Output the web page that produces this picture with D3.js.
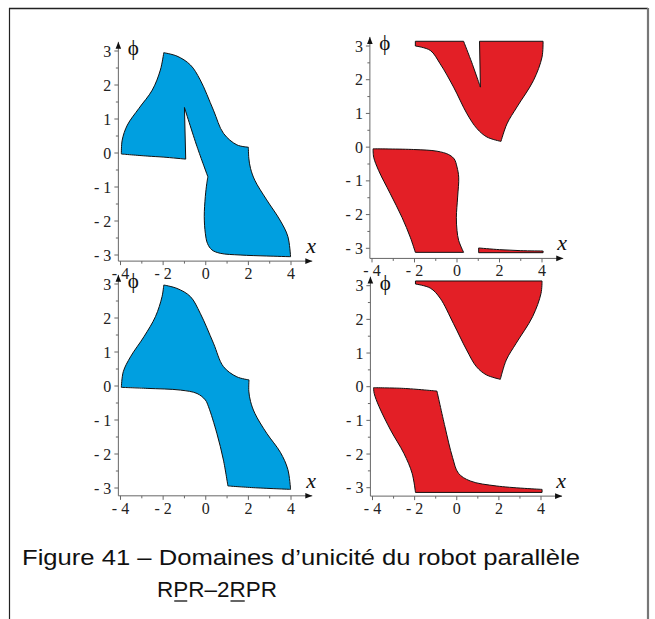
<!DOCTYPE html>
<html>
<head>
<meta charset="utf-8">
<script src="https://cdn.jsdelivr.net/npm/d3@7"></script>
<style>
  body { margin: 0; background: #fff; }
  svg { display: block; }
</style>
</head>
<body>
<div id="chart"></div>
<script>
var width = 655,
  height = 619;

// tick values
var xTicks = [-4, -2, 0, 2, 4];
var xMinor = [-3, -1, 1, 3];
var yTicks = [-3, -2, -1, 0, 1, 2, 3];
var yMinor = [-2.5, -1.5, -0.5, 0.5, 1.5, 2.5];

// domains, each one a list of edges of [x, phi] points
var domainsTopLeft = [
  [
    [[-3.96, -0.03], [-3.92, 0.38], [-3.68, 0.82], [-3.14, 1.31], [-2.51, 1.85], [-2.13, 2.44], [-1.97, 2.95]],
    [[-1.97, 2.95], [-1.35, 2.85], [-0.72, 2.59], [-0.26, 2.15], [0.36, 1.26], [0.83, 0.58], [1.46, 0.24], [2.0, 0.17]],
    [[2.0, 0.17], [2.02, -0.15], [2.1, -0.45], [2.3, -0.8], [2.86, -1.38], [3.48, -1.97], [3.85, -2.45], [3.98, -3.05]],
    [[3.98, -3.05], [2.86, -3.03], [1.61, -3.0], [0.68, -2.95], [0.29, -2.85], [0.08, -2.66], [-0.02, -2.36], [-0.07, -1.87], [-0.02, -1.28], [0.05, -0.89], [0.1, -0.7]],
    [[0.1, -0.7], [-0.41, 0.19], [-1.0, 1.34]],
    [[-1.0, 1.34], [-0.94, -0.18]],
    [[-0.94, -0.18], [-2.0, -0.12], [-2.75, -0.09], [-3.96, -0.03]]
  ]
];

var domainsBottomLeft = [
  [
    [[-3.96, -0.04], [-3.87, 0.42], [-3.53, 0.86], [-2.9, 1.45], [-2.36, 2.04], [-2.05, 2.63], [-1.97, 2.97]],
    [[-1.97, 2.97], [-1.35, 2.87], [-0.72, 2.63], [-0.26, 2.14], [0.36, 1.26], [0.83, 0.57], [1.46, 0.27], [2.03, 0.18]],
    [[2.03, 0.18], [2.02, -0.15], [2.1, -0.45], [2.3, -0.8], [2.86, -1.39], [3.5, -1.95], [3.85, -2.45], [3.98, -3.04]],
    [[3.98, -3.04], [2.23, -2.99], [1.04, -2.94]],
    [[1.04, -2.94], [0.83, -2.18], [0.52, -1.39], [0.13, -0.61], [-0.02, -0.41], [-0.41, -0.22], [-1.19, -0.12], [-2.75, -0.07], [-3.96, -0.04]]
  ]
];

var domainsTopRight = [
  [
    [[-1.96, 3.14], [0.31, 3.14]],
    [[0.31, 3.14], [0.7, 2.5], [1.1, 1.78]],
    [[1.1, 1.78], [1.06, 3.14]],
    [[1.06, 3.14], [4.05, 3.14]],
    [[4.05, 3.14], [4.0, 2.67], [3.6, 1.98], [2.82, 1.19], [2.35, 0.69], [2.07, 0.17]],
    [[2.07, 0.17], [1.41, 0.3], [0.94, 0.55], [0.47, 0.99], [-0.16, 1.78], [-0.79, 2.47], [-1.26, 2.87], [-1.96, 3.0]],
    [[-1.96, 3.0], [-1.96, 3.14]]
  ],
  [
    [[-3.95, -0.05], [-2.04, -0.07], [-0.94, -0.12], [-0.39, -0.22], [-0.13, -0.35], [0.0, -0.59], [0.08, -0.89], [0.03, -1.48], [-0.03, -2.08], [0.0, -2.47], [0.08, -2.77], [0.31, -3.12]],
    [[0.31, -3.12], [-1.96, -3.12]],
    [[-1.96, -3.12], [-2.2, -2.67], [-2.59, -2.08], [-3.14, -1.38], [-3.69, -0.69], [-3.92, -0.3], [-3.95, -0.05]]
  ],
  [
    [[1.02, -2.99], [2.0, -3.04], [3.0, -3.07], [4.05, -3.08]],
    [[4.05, -3.08], [4.05, -3.13]],
    [[4.05, -3.13], [1.02, -3.13]],
    [[1.02, -3.13], [1.02, -2.99]]
  ]
];

var domainsBottomRight = [
  [
    [[-1.96, 3.14], [4.05, 3.14]],
    [[4.05, 3.14], [4.0, 2.77], [3.6, 2.08], [2.82, 1.29], [2.35, 0.79], [2.07, 0.22]],
    [[2.07, 0.22], [1.41, 0.35], [0.94, 0.59], [0.47, 1.09], [-0.16, 1.88], [-0.79, 2.63], [-1.26, 2.93], [-1.96, 3.05]],
    [[-1.96, 3.05], [-1.96, 3.14]]
  ],
  [
    [[-3.95, -0.03], [-2.53, -0.05], [-0.94, -0.13]],
    [[-0.94, -0.13], [-0.56, -1.19], [-0.2, -2.1], [0.08, -2.57], [0.64, -2.8], [1.9, -2.95], [4.05, -3.05]],
    [[4.05, -3.05], [4.05, -3.14]],
    [[4.05, -3.14], [-1.96, -3.14]],
    [[-1.96, -3.14], [-2.12, -2.57], [-2.51, -1.98], [-3.14, -1.29], [-3.69, -0.59], [-3.92, -0.2], [-3.95, -0.03]]
  ]
];

var blue = "#009fe0",
  red = "#e31f26";

var panels = [
  { domains: domainsTopLeft, fill: blue, xr: [120.5, 291], yr: [255, 51], axisY: -3.18 },
  { domains: domainsTopRight, fill: red, xr: [372, 542], yr: [248.3, 46], axisY: -3.3 },
  { domains: domainsBottomLeft, fill: blue, xr: [120.5, 291], yr: [488, 284], axisY: -3.23 },
  { domains: domainsBottomRight, fill: red, xr: [372.5, 541], yr: [487.7, 285.7], axisY: -3.25 }
];

var svg = d3.select("#chart").append("svg")
  .attr("width", width)
  .attr("height", height);

// page frame
svg.append("line").attr("x1", 9).attr("y1", 8.5).attr("x2", 648).attr("y2", 8.5)
  .attr("stroke", "#222").attr("stroke-width", 1.5);
svg.append("line").attr("x1", 9.5).attr("y1", 8).attr("x2", 9.5).attr("y2", height)
  .attr("stroke", "#222").attr("stroke-width", 1.2);
svg.append("line").attr("x1", 648).attr("y1", 8).attr("x2", 648).attr("y2", height)
  .attr("stroke", "#777").attr("stroke-width", 2.2);

var defs = svg.append("defs");
defs.append("marker")
  .attr("id", "arrow")
  .attr("viewBox", "0 0 10 10")
  .attr("refX", 10).attr("refY", 5)
  .attr("markerWidth", 7).attr("markerHeight", 7)
  .attr("markerUnits", "userSpaceOnUse")
  .attr("orient", "auto")
  .append("path")
    .attr("d", "M0,1L10,5L0,9Z")
    .attr("fill", "#111");

function fmt(d) {
  return d < 0 ? "- " + (-d) : "" + d;
}

panels.forEach(function(p) {
  var x = d3.scaleLinear().domain([-4, 4]).range(p.xr);
  var y = d3.scaleLinear().domain([-3, 3]).range(p.yr);
  var g = svg.append("g");

  var line = d3.line()
    .x(function(d) { return x(d[0]); })
    .y(function(d) { return y(d[1]); })
    .curve(d3.curveCatmullRom.alpha(0.5));

  p.domains.forEach(function(shape) {
    var dStr = shape.map(function(edge, i) {
      var s = line(edge);
      return i === 0 ? s : "L" + s.slice(1);
    }).join("") + "Z";
    g.append("path")
      .attr("d", dStr)
      .attr("fill", p.fill)
      .attr("stroke", "#111")
      .attr("stroke-width", 1)
      .attr("stroke-linejoin", "round");
  });

  var ax = x(-4.1),
    ay = y(p.axisY);

  // x axis
  g.append("line")
    .attr("x1", ax).attr("y1", ay)
    .attr("x2", x(5.0)).attr("y2", ay)
    .attr("stroke", "#666").attr("stroke-width", 1)
    .attr("marker-end", "url(#arrow)");
  // y axis
  g.append("line")
    .attr("x1", ax).attr("y1", ay)
    .attr("x2", ax).attr("y2", y(3.27))
    .attr("stroke", "#666").attr("stroke-width", 1)
    .attr("marker-end", "url(#arrow)");

  g.selectAll(".xt").data(xTicks.concat(xMinor)).enter().append("line")
    .attr("x1", function(d) { return x(d); }).attr("x2", function(d) { return x(d); })
    .attr("y1", ay).attr("y2", function(d) { return ay + (xTicks.indexOf(d) >= 0 ? 4 : 2.5); })
    .attr("stroke", "#666");
  g.selectAll(".yt").data(yTicks.concat(yMinor)).enter().append("line")
    .attr("y1", function(d) { return y(d); }).attr("y2", function(d) { return y(d); })
    .attr("x1", ax).attr("x2", function(d) { return ax - (yTicks.indexOf(d) >= 0 ? 4 : 2.5); })
    .attr("stroke", "#666");

  g.selectAll(".xl").data(xTicks).enter().append("text")
    .attr("x", function(d) { return x(d); })
    .attr("y", ay + 18)
    .attr("text-anchor", "middle")
    .attr("font-family", "Liberation Serif, serif")
    .attr("font-size", 16)
    .attr("fill", "#222")
    .text(fmt);
  g.selectAll(".yl").data(yTicks).enter().append("text")
    .attr("x", ax - 7)
    .attr("y", function(d) { return y(d) + 5.5; })
    .attr("text-anchor", "end")
    .attr("font-family", "Liberation Serif, serif")
    .attr("font-size", 16)
    .attr("fill", "#222")
    .text(fmt);

  g.append("text")
    .attr("x", x(4.95))
    .attr("y", ay - 8)
    .attr("text-anchor", "middle")
    .attr("font-family", "Liberation Serif, serif")
    .attr("font-style", "italic")
    .attr("font-size", 22)
    .attr("fill", "#111")
    .text("x");
  g.append("text")
    .attr("x", ax + 15)
    .attr("y", y(3.27) + 13)
    .attr("text-anchor", "middle")
    .attr("font-family", "Liberation Serif, serif")
    .attr("font-size", 21)
    .attr("fill", "#111")
    .text("\u03D5");
});

// caption
svg.append("text")
  .attr("x", 22)
  .attr("y", 565)
  .attr("font-family", "Liberation Sans, Arial, sans-serif")
  .attr("font-size", 22)
  .attr("textLength", 558)
  .attr("lengthAdjust", "spacingAndGlyphs")
  .attr("fill", "#111")
  .text("Figure 41 \u2013 Domaines d\u2019unicit\u00e9 du robot parall\u00e8le");

var cap2 = svg.append("text")
  .attr("x", 157)
  .attr("y", 597)
  .attr("font-family", "Liberation Sans, Arial, sans-serif")
  .attr("font-size", 22)
  .attr("textLength", 120)
  .attr("lengthAdjust", "spacingAndGlyphs")
  .attr("fill", "#111")
  .text("RPR\u20132RPR");

[1, 5].forEach(function(i) {
  var ext = cap2.node().getExtentOfChar(i);
  svg.append("line")
    .attr("x1", ext.x + 1).attr("x2", ext.x + ext.width - 1)
    .attr("y1", 601).attr("y2", 601)
    .attr("stroke", "#111").attr("stroke-width", 1.3);
});
</script>
</body>
</html>
